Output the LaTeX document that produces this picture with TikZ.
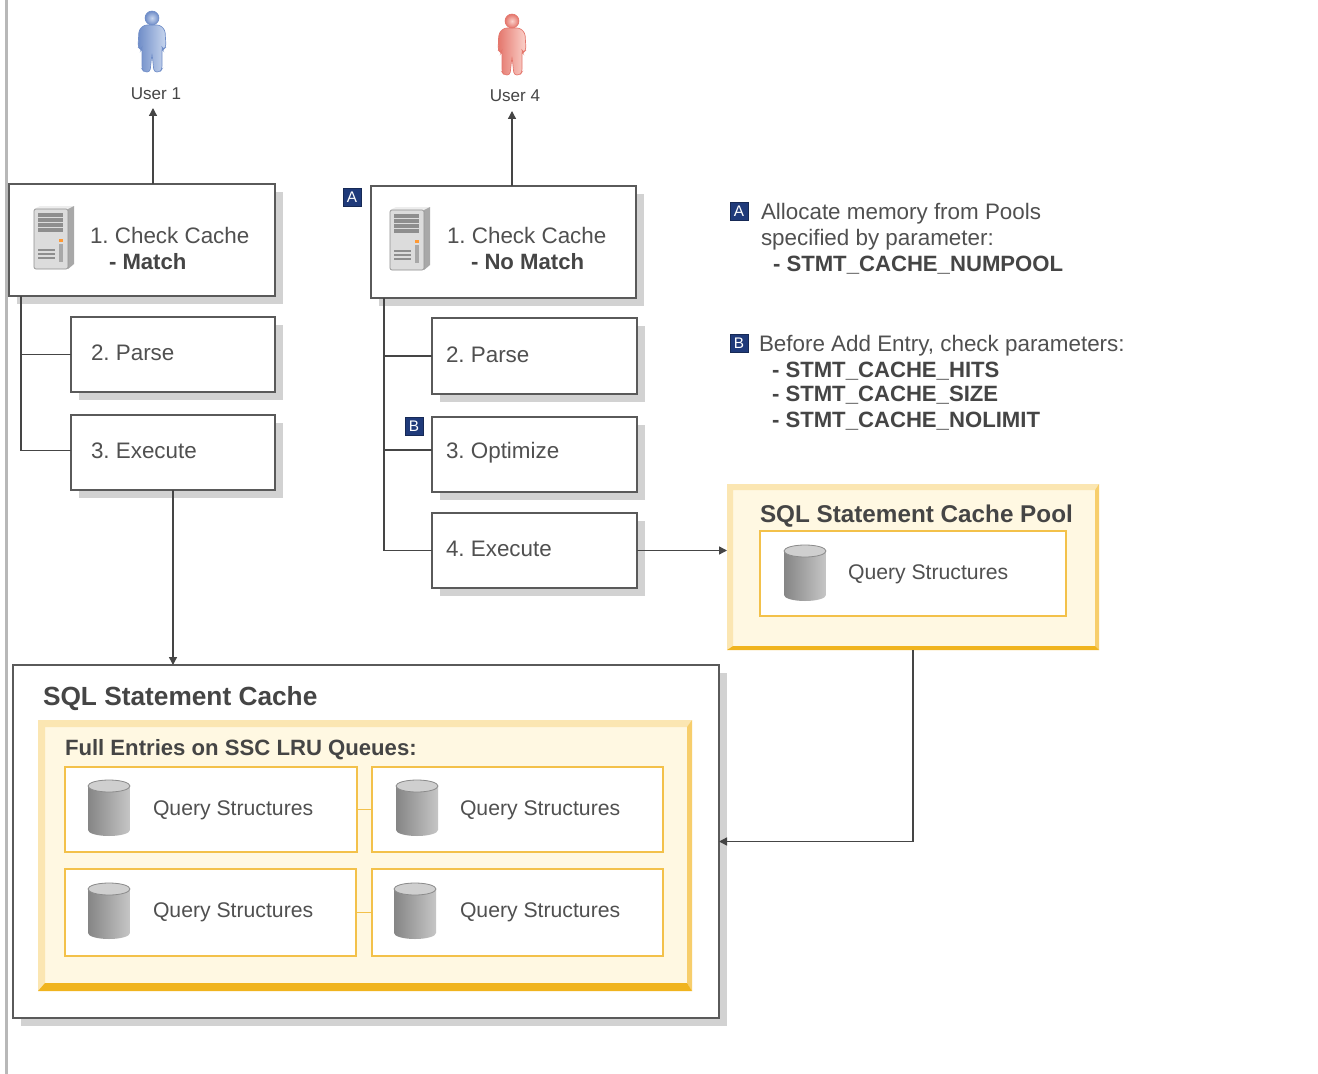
\documentclass[tikz,border=0pt]{standalone}
\usepackage{fontspec}
\setmainfont{Liberation Sans}
\frenchspacing
\usetikzlibrary{arrows.meta,calc}
\definecolor{ink}{HTML}{454545}
\definecolor{txtc}{HTML}{505050}
\definecolor{shadowc}{HTML}{D2D2D2}
\definecolor{edgec}{HTML}{5A5A5A}
\definecolor{creamc}{HTML}{FFF8E2}
\definecolor{bevelL}{HTML}{FBE6B2}
\definecolor{bevelR}{HTML}{F7CE6C}
\definecolor{bevelB}{HTML}{F0B41E}
\definecolor{goldc}{HTML}{F3C14A}
\definecolor{navyc}{HTML}{1F3A7A}
\definecolor{cylL}{HTML}{858585}
\definecolor{cylR}{HTML}{C6C6C6}
\definecolor{cylt}{HTML}{CFCFCF}
\definecolor{cyle}{HTML}{8C8C8C}
\definecolor{srvf}{HTML}{DCDCDC}
\definecolor{srvs}{HTML}{A8A8A8}
\definecolor{srvt}{HTML}{EDEDED}
\definecolor{srvv}{HTML}{8E8E8E}
\definecolor{blueL}{HTML}{C8D6EE}
\definecolor{blueD}{HTML}{6F8DC8}
\definecolor{redL}{HTML}{FBD2CB}
\definecolor{redD}{HTML}{E4766C}
\tikzset{
  x=0.75pt,y=-0.75pt,
  boxn/.style={draw=edgec,line width=1.1pt,fill=white,anchor=north west,inner sep=0pt,outer sep=0pt},
  goldbox/.style={draw=goldc,line width=1pt,fill=white,anchor=north west,inner sep=0pt,outer sep=0pt},
  creambox/.style={fill=creamc,anchor=north west,inner sep=0pt,outer sep=0pt},
  conn/.style={draw=ink,line width=1pt},
  arr/.style={conn,-{Triangle[length=6pt,width=6pt]}},
  goldlink/.style={draw=goldc,line width=1pt},
  lbl/.style={anchor=base west,inner sep=0pt,outer sep=0pt,text=txtc},
  body/.style={lbl,font=\fontsize{16.8pt}{19pt}\selectfont},
  query/.style={lbl,font=\fontsize{15.9pt}{18pt}\selectfont},
  strong/.style={lbl,text=ink,font=\fontsize{16.6pt}{19pt}\selectfont\bfseries},
  title/.style={lbl,text=ink,font=\fontsize{18.2pt}{21pt}\selectfont\bfseries},
  bigtitle/.style={lbl,text=ink,font=\fontsize{19.7pt}{22pt}\selectfont\bfseries},
  userl/.style={lbl,anchor=base,text=ink,font=\fontsize{12.8pt}{15pt}\selectfont},
  badgen/.style={fill=navyc,draw=navyc!70!black,line width=.5pt,text=white,inner sep=0pt,outer sep=0pt,
     minimum width=13.4pt,minimum height=13.4pt,font=\fontsize{11.5pt}{12pt}\selectfont},
}
% name, style, x1,y1,x2,y2
\newcommand{\bx}[6]{\node[#2,minimum width={(#5-#3)*0.75pt},minimum height={(#6-#4)*0.75pt}] (#1) at (#3,#4) {};}
\newcommand{\shad}[4]{\fill[shadowc] (#1+8,#2+8) rectangle (#3+8,#4+8);}
% bevel: x1,y1,x2,y2, top/left thickness, right thickness, bottom thickness
\newcommand{\bevel}[7]{%
  \fill[bevelL] (#1,#2) -- (#3,#2) -- (#3-#6,#2+#5) -- (#1+#5,#2+#5) -- (#1+#5,#4-#7) -- (#1,#4) -- cycle;
  \fill[bevelR] (#3,#2) -- (#3,#4) -- (#3-#6,#4-#7) -- (#3-#6,#2+#5) -- cycle;
  \fill[bevelB] (#1,#4) -- (#3,#4) -- (#3-#6,#4-#7) -- (#1+#5,#4-#7) -- cycle;}
\newcommand{\dbicon}[2]{%
  \begin{scope}[shift={(#1,#2)}]
    \shade[left color=cylL,right color=cylR]
      (0,6) -- (0,50) arc[start angle=180,end angle=360,x radius=15.75pt,y radius=4.5pt]
      -- (42,6) arc[start angle=0,end angle=180,x radius=15.75pt,y radius=4.5pt] -- cycle;
    \draw[fill=cylt,draw=cyle,line width=.6pt] (21,6) ellipse[x radius=15.75pt,y radius=4.5pt];
  \end{scope}}
\newcommand{\srvicon}[2]{%
  \begin{scope}[shift={(#1,#2)}]
    \fill[srvt] (0,3) -- (6,0) -- (40,0) -- (34,3) -- cycle;
    \fill[srvs] (34,3) -- (40,0) -- (40,58) -- (34,63) -- cycle;
    \fill[srvf,draw=srvv,line width=.5pt,rounded corners=1.5pt] (0,3) rectangle (34,63);
    \foreach \yy in {9,14,19,24}{\draw[srvv,line width=2.6pt] (4,\yy) -- (29,\yy);}
    \foreach \yy in {44,48,52}{\draw[srvv,line width=.8pt] (4,\yy) -- (21,\yy);}
    \fill[srvs] (25,38) rectangle (29,56);
    \fill[orange!80] (25,33) rectangle (29,36);
  \end{scope}}
\newcommand{\usericon}[4]{% x center, y top, light, dark
  \begin{scope}[shift={(#1,#2)}]
    \shade[left color=#4,right color=#3,draw=#4,line width=.5pt,rounded corners=2.2pt]
      (-8,14) -- (8,14) -- (13,19) -- (14,36) -- (11,39) -- (10,36) -- (10,58) -- (8,61) -- (2,61)
      -- (0,42) -- (-2,61) -- (-8,61) -- (-10,58) -- (-10,36) -- (-11,39) -- (-14,36) -- (-13,19) -- cycle;
    \shade[inner color=#3,outer color=#4,draw=#4,line width=.5pt] (0,7) circle[radius=5.2pt];
  \end{scope}}
\begin{document}
\begin{tikzpicture}
\useasboundingbox (0,0) rectangle (1318,1074);
\fill[white] (0,0) rectangle (1318,1074);
\fill[black!28] (5,0) rectangle (8,1074);

% shadows
\shad{9}{184}{275}{296}
\shad{71}{317}{275}{392}
\shad{71}{415}{275}{490}
\shad{371}{186}{636}{298}
\shad{432}{318}{637}{394}
\shad{432}{417}{637}{492}
\shad{432}{513}{637}{588}
\shad{13}{665}{719}{1018}

% step boxes
\bx{checkA}{boxn}{9}{184}{275}{296}
\bx{parseA}{boxn}{71}{317}{275}{392}
\bx{execA}{boxn}{71}{415}{275}{490}
\bx{checkB}{boxn}{371}{186}{636}{298}
\bx{parseB}{boxn}{432}{318}{637}{394}
\bx{optB}{boxn}{432}{417}{637}{492}
\bx{execB}{boxn}{432}{513}{637}{588}

% cache
\bx{cache}{boxn}{13}{665}{719}{1018}
\bx{lru}{creambox}{38}{720}{692}{991}
\bevel{38}{720}{692}{991}{7}{5}{8}
\bx{qa}{goldbox}{65}{767}{357}{852}
\bx{qb}{goldbox}{372}{767}{663}{852}
\bx{qc}{goldbox}{65}{869}{356}{956}
\bx{qd}{goldbox}{372}{869}{663}{956}
\draw[goldlink] (qa.east) -- (qb.west);
\draw[goldlink] (qc.east) -- (qd.west);

% pool
\bx{pool}{creambox}{727}{484}{1099}{650}
\bevel{727}{484}{1099}{650}{6}{4}{4}
\bx{qp}{goldbox}{760}{531}{1066}{616}

% icons
\usericon{152}{11}{blueL}{blueD}
\usericon{512}{14}{redL}{redD}
\srvicon{34}{206}
\srvicon{390}{207}
\dbicon{88}{780}
\dbicon{396}{780}
\dbicon{88}{883}
\dbicon{394}{883}
\dbicon{784}{545}

% user labels
\node[userl] (user1) at (156,100) {User 1};
\node[userl] (user4) at (515,102) {User 4};

% connectors
\coordinate (u1base) at (153,184);
\coordinate (u1tip) at (153,108);
\coordinate (u4base) at (512,186);
\coordinate (u4tip) at (512,111);
\draw[arr] (u1base) -- (u1tip);
\draw[arr] (u4base) -- (u4tip);
\coordinate (trunkA) at (21,296);
\coordinate (trunkB) at (384,298);
\draw[conn] (trunkA) |- (parseA.west);
\draw[conn] ([yshift=1.5pt]execA.west) -| (trunkA);
\draw[conn] (trunkB) |- (parseB.west);
\draw[conn] ([yshift=3.4pt]optB.west) -| (trunkB);
\draw[conn] (execB.west) -| (trunkB);
\draw[arr] (execA.south) -- (execA.south |- cache.north);
\draw[arr] (execB.east) -- (execB.east -| pool.west);
\draw[arr] (pool.south) |- (cache.east);

% step labels
\node[body] (t1) at (90,243) {1. Check Cache};
\node[strong] (t2) at (109,269) {- Match};
\node[body] (t3) at (91,360) {2. Parse};
\node[body] (t4) at (91,458) {3. Execute};
\node[body] (t5) at (447,243) {1. Check Cache};
\node[strong] (t6) at (471,269) {- No Match};
\node[body] (t7) at (446,362) {2. Parse};
\node[body] (t8) at (446,458) {3. Optimize};
\node[body] (t9) at (446,556) {4. Execute};

% notes
\node[body] (n1) at (761,219) {Allocate memory from Pools};
\node[body] (n2) at (761,245) {specified by parameter:};
\node[strong] (n3) at (773,271) {- STMT\_CACHE\_NUMPOOL};
\node[body] (n4) at (759,351) {Before Add Entry, check parameters:};
\node[strong] (n5) at (772,377) {- STMT\_CACHE\_HITS};
\node[strong] (n6) at (772,401) {- STMT\_CACHE\_SIZE};
\node[strong] (n7) at (772,427) {- STMT\_CACHE\_NOLIMIT};

% badges
\node[badgen] (ba) at (352,197) {A};
\node[badgen] (bb) at (414,426) {B};
\node[badgen] (bc) at (739,211) {A};
\node[badgen] (bd) at (739,343) {B};

% titles
\node[title] (h1) at (760,522) {SQL Statement Cache Pool};
\node[bigtitle] (h2) at (43,705) {SQL Statement Cache};
\node[strong] (h3) at (65,755) {Full Entries on SSC LRU Queues:};

% query text
\node[query] (q1) at (153,815) {Query Structures};
\node[query] (q2) at (460,815) {Query Structures};
\node[query] (q3) at (153,917) {Query Structures};
\node[query] (q4) at (460,917) {Query Structures};
\node[query] (q5) at (848,579) {Query Structures};
\end{tikzpicture}
\end{document}
